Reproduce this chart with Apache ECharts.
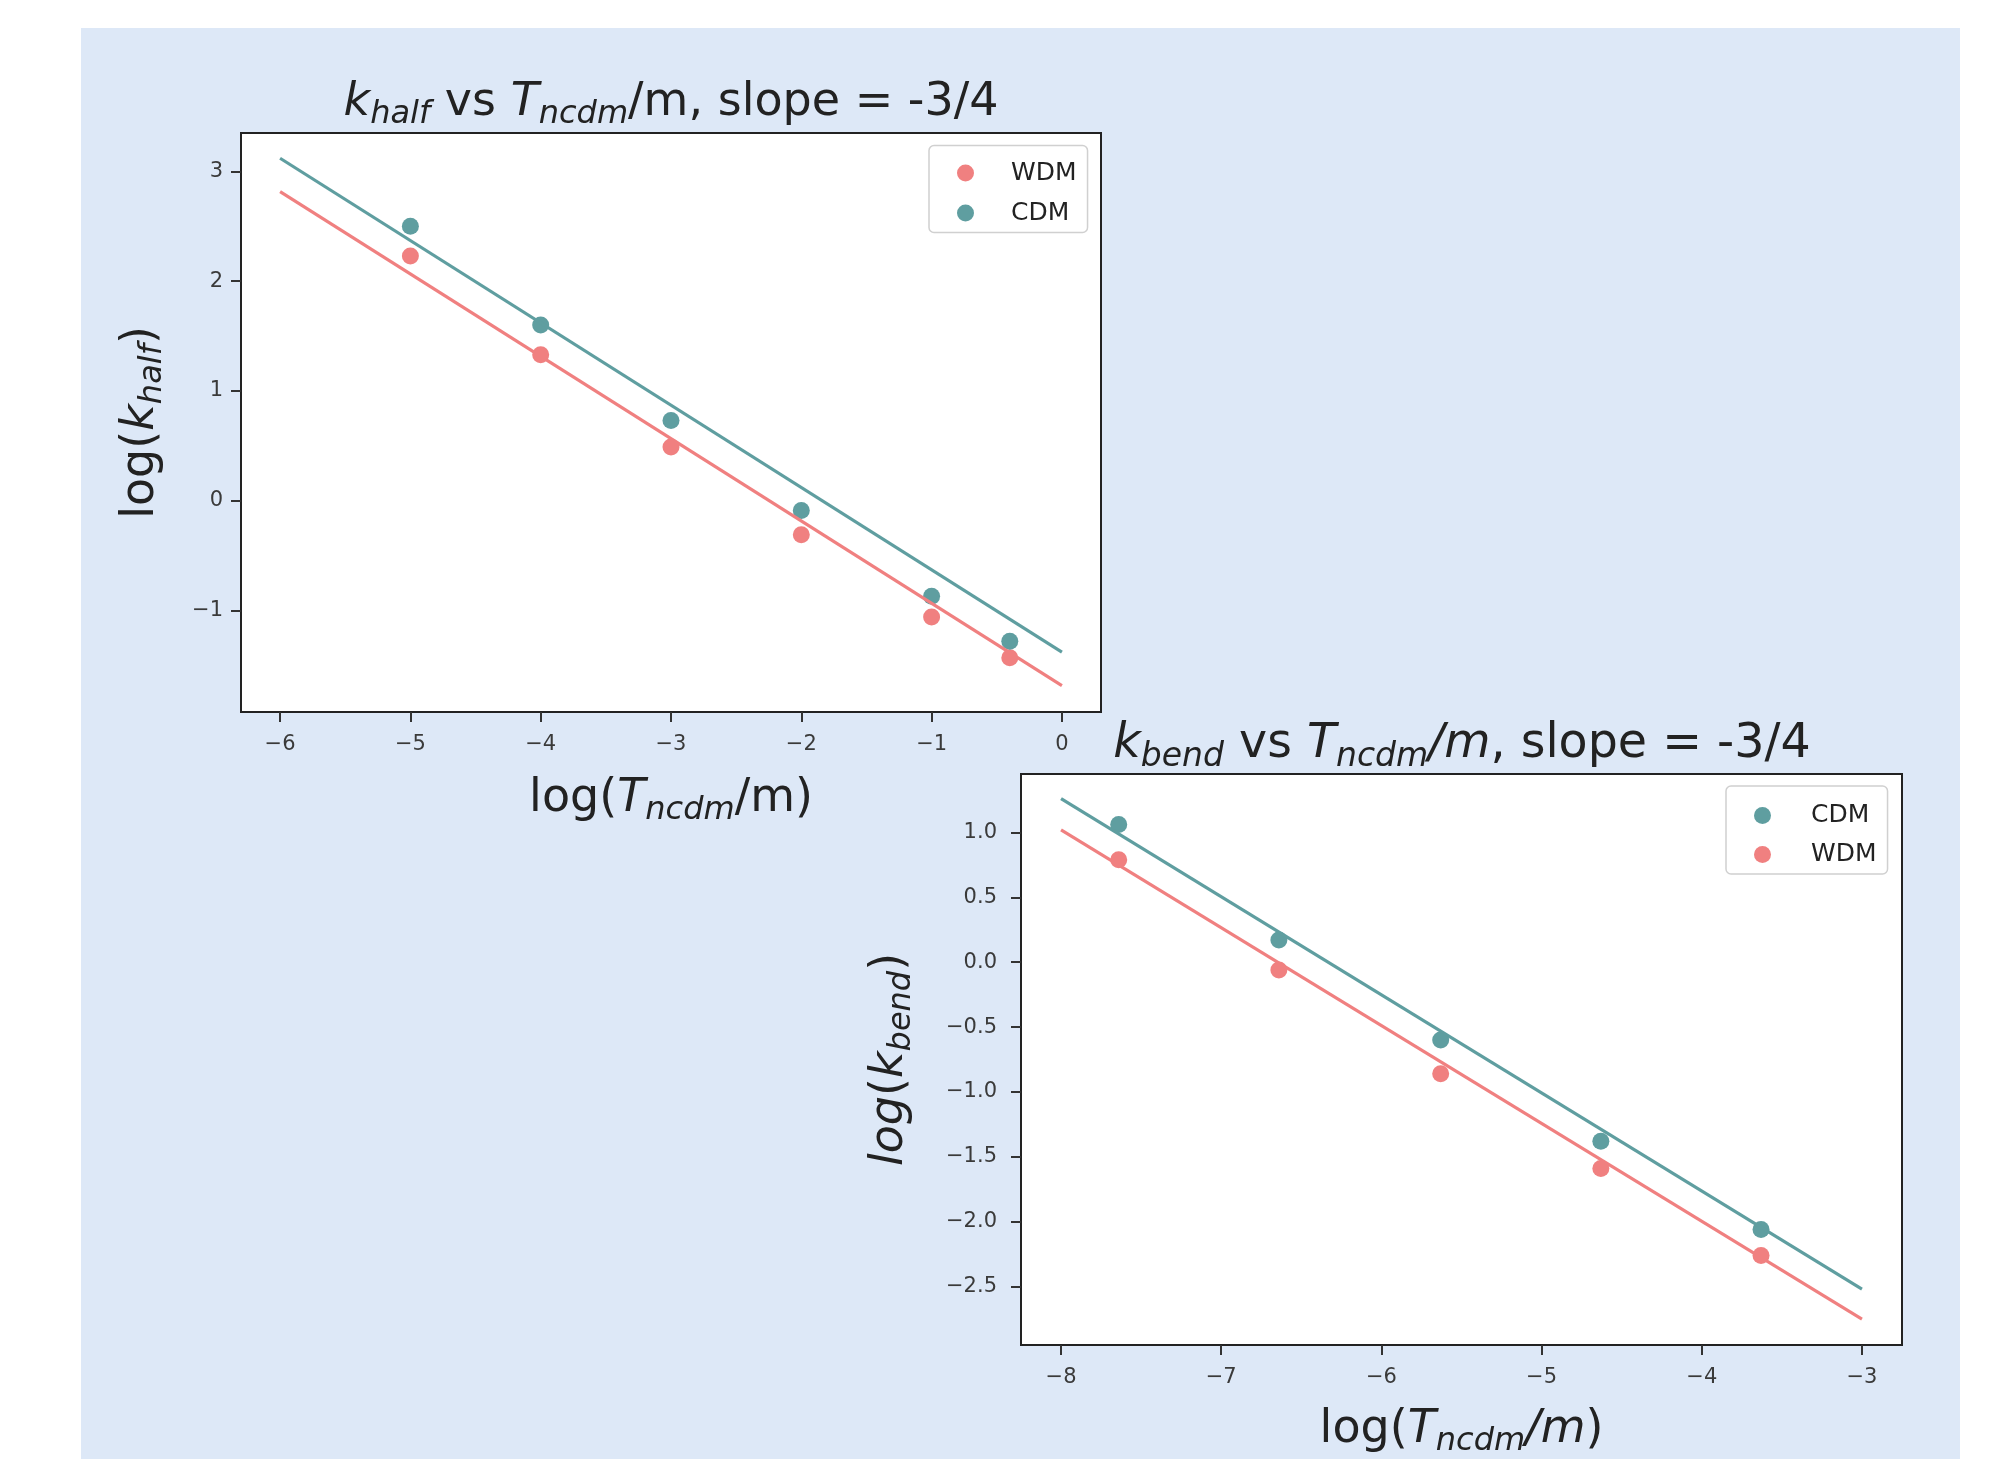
<!DOCTYPE html>
<html>
<head>
<meta charset="utf-8">
<script src="https://cdn.jsdelivr.net/npm/echarts@6/dist/echarts.min.js"></script>
<style>
  body { margin: 0; background: #fff; }
  #chart { width: 1991px; height: 1459px; }
</style>
</head>
<body>
<div id="chart"></div>
<script>
// k_half panel
const halfX = [-5, -4, -3, -2, -1, -0.4];
const halfWDM = [2.23, 1.33, 0.49, -0.31, -1.06, -1.43];
const halfCDM = [2.50, 1.60, 0.73, -0.09, -0.87, -1.28];
const halfFitX = [-6, 0];
const halfFitWDM = [2.815, -1.685];
const halfFitCDM = [3.12, -1.38];
const halfXTicks = [-6, -5, -4, -3, -2, -1, 0];
const halfYTicks = [-1, 0, 1, 2, 3];

// k_bend panel
const bendX = [-7.64, -6.64, -5.63, -4.63, -3.63];
const bendCDM = [1.06, 0.17, -0.60, -1.38, -2.06];
const bendWDM = [0.79, -0.06, -0.86, -1.59, -2.26];
const bendFitX = [-8, -3];
const bendFitCDM = [1.26, -2.52];
const bendFitWDM = [1.02, -2.75];
const bendXTicks = [-8, -7, -6, -5, -4, -3];
const bendYTicks = [-2.5, -2.0, -1.5, -1.0, -0.5, 0.0, 0.5, 1.0];

const colorWDM = '#f08080';
const colorCDM = '#5f9ea0';
const FONT = 'DejaVu Sans';

const chart = echarts.init(document.getElementById('chart'));

const pairs = (xs, ys) => xs.map((x, i) => [x, ys[i]]);
const minus = (s) => String(s).replace('-', '\u2212');

// rich styles: r = regular, i = italic, s = italic subscript
function richText(size) {
    const sub = Math.round(size * 0.7);
    return {
        r: { fontFamily: FONT, fontSize: size, lineHeight: size, fontWeight: 'normal', color: '#222' },
        i: { fontFamily: FONT, fontSize: size, lineHeight: size, fontWeight: 'normal', fontStyle: 'italic', color: '#222' },
        s: { fontFamily: FONT, fontSize: sub, lineHeight: 20, fontWeight: 'normal', fontStyle: 'italic',
             padding: [Math.round(size * 0.52), 0, 0, 0], color: '#222' }
    };
}
const richBig = richText(46);

function axisCommon(ticks, fmt, margin) {
    return {
        axisLine: { show: true, onZero: false, lineStyle: { color: '#222', width: 2 } },
        axisTick: { show: true, length: 10, customValues: ticks, lineStyle: { color: '#333', width: 2 } },
        axisLabel: { customValues: ticks, formatter: fmt, margin: margin,
            fontFamily: FONT, fontSize: 21, color: '#3a3a3a' },
        splitLine: { show: false }
    };
}

function scatter(name, data, color, xi) {
    return { type: 'scatter', name: name, xAxisIndex: xi, yAxisIndex: xi, data: data,
        symbolSize: 17, itemStyle: { color: color, opacity: 1 }, z: 2 };
}
function fitLine(name, data, color, xi) {
    return { type: 'line', name: name, xAxisIndex: xi, yAxisIndex: xi, data: data,
        symbol: 'none', lineStyle: { color: color, width: 3.2 }, z: 3, silent: true };
}

function legend(names, left, top, pad, gap, textPad) {
    return {
        data: names, orient: 'vertical', left: left, top: top,
        icon: 'circle', itemWidth: 17, itemHeight: 17, itemGap: gap,
        padding: pad,
        backgroundColor: '#fff', borderColor: '#d0d0d0', borderWidth: 1.5, borderRadius: 5,
        itemStyle: { opacity: 1 },
        textStyle: { fontFamily: FONT, fontSize: 25, lineHeight: 17, color: '#222', padding: [0, 0, 0, textPad] }
    };
}

const option = {
    animation: false,
    backgroundColor: 'transparent',
    graphic: [{
        type: 'rect', z: -10, silent: true,
        shape: { x: 81, y: 28, width: 1879, height: 1431 },
        style: { fill: '#dde8f7' }
    }],
    title: [
        { text: '{i|k}{s|half}{r| vs }{i|T}{s|ncdm}{r|/m, slope = -3/4}',
          left: 671, top: 80, textAlign: 'center', padding: 0,
          textStyle: { fontWeight: 'normal', rich: richBig } },
        { text: '{i|k}{s|bend}{r| vs }{i|T}{s|ncdm}{i|/m}{r|, slope = -3/4}',
          left: 1462, top: 721, textAlign: 'center', padding: 0,
          textStyle: { fontWeight: 'normal', rich: richText(47.5) } }
    ],
    legend: [
        legend(['WDM', 'CDM'], 929, 145.5, [15, 11, 7, 28], 15, 32),
        legend(['CDM', 'WDM'], 1726, 786, [17, 11, 7, 28], 14, 35)
    ],
    grid: [
        { left: 241, top: 133, width: 860, height: 579, show: true,
          backgroundColor: '#fff', borderColor: '#222', borderWidth: 2 },
        { left: 1021, top: 774, width: 881, height: 574, show: true,
          backgroundColor: '#fff', borderColor: '#222', borderWidth: 2 }
    ],
    xAxis: [
        Object.assign({ type: 'value', gridIndex: 0, min: -6.3, max: 0.3,
            name: '{r|log(}{i|T}{s|ncdm}{r|/m)}', nameLocation: 'middle', nameGap: 64,
            nameTextStyle: { rich: richBig } }, axisCommon(halfXTicks, (v) => minus(v), 22)),
        Object.assign({ type: 'value', gridIndex: 1, min: -8.25, max: -2.75,
            name: '{r|log(}{i|T}{s|ncdm}{i|/m}{r|)}', nameLocation: 'middle', nameGap: 62,
            nameTextStyle: { rich: richBig } }, axisCommon(bendXTicks, (v) => minus(v), 22))
    ],
    yAxis: [
        Object.assign({ type: 'value', gridIndex: 0, min: -1.925, max: 3.35,
            name: '{r|log(}{i|k}{s|half}{r|)}', nameLocation: 'middle', nameRotate: 90, nameGap: 77,
            nameTextStyle: { rich: richBig } }, axisCommon(halfYTicks, (v) => minus(v), 18)),
        Object.assign({ type: 'value', gridIndex: 1, min: -2.95, max: 1.45,
            name: '{i|log}{r|(}{i|k}{s|bend}{r|)}', nameLocation: 'middle', nameRotate: 90, nameGap: 108,
            nameTextStyle: { rich: richBig } }, axisCommon(bendYTicks, (v) => minus(v.toFixed(1)), 24))
    ],
    series: [
        scatter('WDM', pairs(halfX, halfWDM), colorWDM, 0),
        scatter('CDM', pairs(halfX, halfCDM), colorCDM, 0),
        fitLine('WDM fit', pairs(halfFitX, halfFitWDM), colorWDM, 0),
        fitLine('CDM fit', pairs(halfFitX, halfFitCDM), colorCDM, 0),
        scatter('CDM', pairs(bendX, bendCDM), colorCDM, 1),
        scatter('WDM', pairs(bendX, bendWDM), colorWDM, 1),
        fitLine('CDM fit', pairs(bendFitX, bendFitCDM), colorCDM, 1),
        fitLine('WDM fit', pairs(bendFitX, bendFitWDM), colorWDM, 1)
    ]
};

chart.setOption(option);
</script>
</body>
</html>
